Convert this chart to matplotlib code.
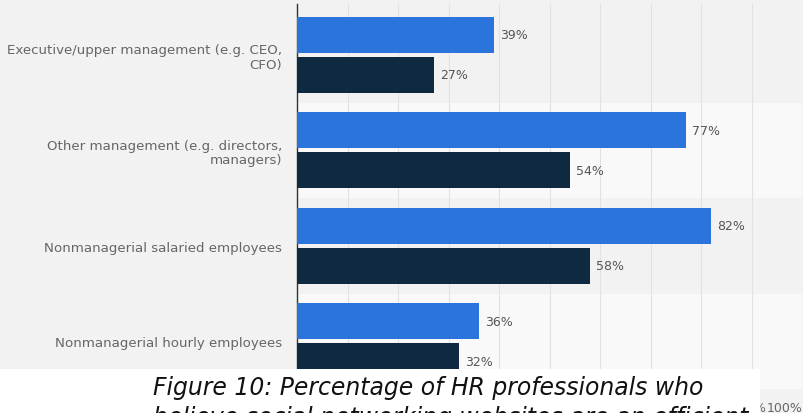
import matplotlib.pyplot as plt
from matplotlib import font_manager
from matplotlib.font_manager import FontProperties
from matplotlib.patches import Rectangle
import numpy as np

# survey groups and the two answer shares (percent)
categories = ['Executive/upper management (e.g. CEO,\nCFO)',
              'Other management (e.g. directors,\nmanagers)',
              'Nonmanagerial salaried employees',
              'Nonmanagerial hourly employees']
series_1 = [39, 77, 82, 36]
series_2 = [27, 54, 58, 32]

x_ticks = list(range(0, 101, 10))
x_tick_labels = [str(t) + '%' for t in x_ticks]

caption_lines = ['Figure 10: Percentage of HR professionals who',
                 'believe social networking websites are an efficient']

W, H = 804, 414
bg = '#f2f2f2'


def italic_font_file():
    # first installed sans family that really ships a slanted regular face
    for fam in ['DejaVu Sans', 'Open Sans', 'Noto Sans', 'Liberation Sans', 'Lato', 'Roboto']:
        for f in font_manager.fontManager.ttflist:
            if f.name == fam and f.style in ('italic', 'oblique') and f.weight in (400, 'normal', 'regular'):
                return f.fname
    return None


fig = plt.figure(figsize=(W / 100, H / 100), dpi=100, facecolor=bg)
ax = fig.add_axes([297.3 / W, 1 - 390 / H, (802.3 - 297.3) / W, (390 - 5) / H])
ax.set_facecolor(bg)

y = np.arange(len(categories))
ax.set_xlim(0, 100)
ax.set_ylim(3.5, 3.5 - 385 / 95.5)

# alternating row bands
for i in range(len(categories)):
    top = i - 0.5 if i > 0 else -1
    ax.axhspan(top, i + 0.5, color=bg if i % 2 == 0 else '#f9f9f9', zorder=0, lw=0)

h = 36 / 95.5
off = 20 / 95.5
ax.barh(y - off, series_1, height=h, color='#2a74db', zorder=3)
ax.barh(y + off, series_2, height=h, color='#0f2940', zorder=3)

for yy, v1, v2 in zip(y, series_1, series_2):
    ax.text(v1 + 1.2, yy - off, f'{v1}%', va='center', ha='left', fontsize=9, color='#555555', zorder=4)
    ax.text(v2 + 1.2, yy + off, f'{v2}%', va='center', ha='left', fontsize=9, color='#555555', zorder=4)

ax.set_xticks(x_ticks)
ax.set_xticklabels(x_tick_labels, fontsize=9, color='#666666')
ax.get_xticklabels()[-1].set_horizontalalignment('right')
ax.grid(axis='x', color='#e2e2e2', lw=0.8)
ax.set_axisbelow(True)

ax.set_yticks(y)
ax.set_yticklabels(categories, fontsize=9.6, color='#666666', linespacing=1.15)
ax.tick_params(axis='both', length=0)
ax.tick_params(axis='y', pad=11)
ax.tick_params(axis='x', pad=9)

for s in ['top', 'right', 'bottom']:
    ax.spines[s].set_visible(False)
ax.spines['left'].set_color('#333333')
ax.spines['left'].set_linewidth(1)

# white caption strip across the bottom
fig.add_artist(Rectangle((0, 0), 760 / W, 44 / H, transform=fig.transFigure,
                         facecolor='white', edgecolor='none', zorder=10))

fname = italic_font_file()
if fname:
    cap_font = FontProperties(fname=fname, size=16.9)
else:
    cap_font = FontProperties(family='DejaVu Sans', style='italic', size=16.9)

cap_texts = [fig.text(153 / W, 1 - (395 + 30 * k) / H, line, fontproperties=cap_font,
                      color='#111111', ha='left', va='baseline', zorder=11)
             for k, line in enumerate(caption_lines)]

# size the caption so the first line runs to about x=705 px
renderer = fig.canvas.get_renderer()
width = cap_texts[0].get_window_extent(renderer).width
size = 16.9 * 552 / width
for t in cap_texts:
    t.set_fontsize(size)

fig.savefig('out.png', dpi=100, facecolor=bg)
